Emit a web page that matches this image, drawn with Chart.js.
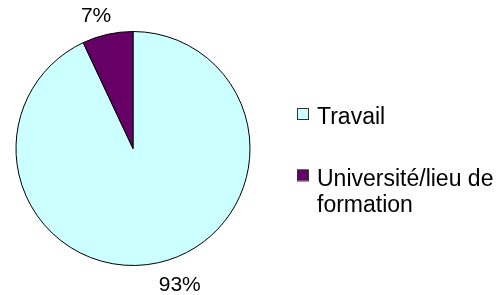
<!DOCTYPE html>
<html>
<head>
<meta charset="utf-8">
<script src="https://cdn.jsdelivr.net/npm/chart.js@4/dist/chart.umd.min.js"></script>
<style>
  html, body { margin: 0; padding: 0; background: #fff; }
  canvas { display: block; }
</style>
</head>
<body>
<canvas id="chart" width="500" height="295"></canvas>
<script>
// data
const categories = ["Travail", "Université/lieu de formation"];
const shares = [93, 7];
const sliceColors = ["#CCFFFF", "#660066"];

const FONT = '"Liberation Sans", Arial, sans-serif';

// percentage labels placed just outside each slice
const outsideLabels = {
  id: "outsideLabels",
  afterDatasetsDraw(chart) {
    const ctx = chart.ctx;
    const meta = chart.getDatasetMeta(0);
    ctx.save();
    ctx.font = "21px " + FONT;
    ctx.fillStyle = "#000";
    meta.data.forEach((arc, i) => {
      const mid = (arc.startAngle + arc.endAngle) / 2;
      const dx = Math.cos(mid), dy = Math.sin(mid);
      const r = arc.outerRadius;
      const ax = arc.x + dx * r + dx * 10;
      const ay = arc.y + dy * r + dy * 10;
      ctx.textAlign = dx < 0 ? "right" : "left";
      ctx.textBaseline = dy < 0 ? "bottom" : "top";
      const txt = shares[i] + "%";
      ctx.fillText(txt, ax + (dx < 0 ? 6 : -2), ay + (dy < 0 ? 2 : 2));
    });
    ctx.restore();
  }
};

// legend on the right, long labels wrap like the original
const sideLegend = {
  id: "sideLegend",
  afterDraw(chart) {
    const ctx = chart.ctx;
    const boxX = 297, textX = 317, maxW = chart.width - textX;
    const baselines = [124, 185.5];
    const lineH = 26;
    ctx.save();
    ctx.font = "23px " + FONT;
    ctx.textAlign = "left";
    ctx.textBaseline = "alphabetic";
    categories.forEach((label, i) => {
      const words = label.split(" ");
      const lines = [];
      let cur = "";
      words.forEach(w => {
        const test = cur ? cur + " " + w : w;
        if (cur && ctx.measureText(test).width > maxW) {
          lines.push(cur);
          cur = w;
        } else {
          cur = test;
        }
      });
      lines.push(cur);
      const y0 = baselines[i];
      ctx.fillStyle = sliceColors[i];
      ctx.fillRect(boxX, y0 - 16, 11, 11);
      ctx.strokeStyle = "#333";
      ctx.lineWidth = 1;
      ctx.strokeRect(boxX + 0.5, y0 - 15.5, 11, 11);
      ctx.fillStyle = "#000";
      lines.forEach((ln, k) => ctx.fillText(ln, textX, y0 + k * lineH));
    });
    ctx.restore();
  }
};

new Chart(document.getElementById("chart"), {
  type: "pie",
  data: {
    labels: categories,
    datasets: [{
      data: shares,
      backgroundColor: sliceColors,
      borderColor: "#000",
      borderWidth: 1
    }]
  },
  options: {
    responsive: false,
    animation: false,
    layout: { padding: { left: 15, right: 249, top: 31, bottom: 29 } },
    plugins: {
      legend: { display: false },
      tooltip: { enabled: false }
    }
  },
  plugins: [outsideLabels, sideLegend]
});
</script>
</body>
</html>
